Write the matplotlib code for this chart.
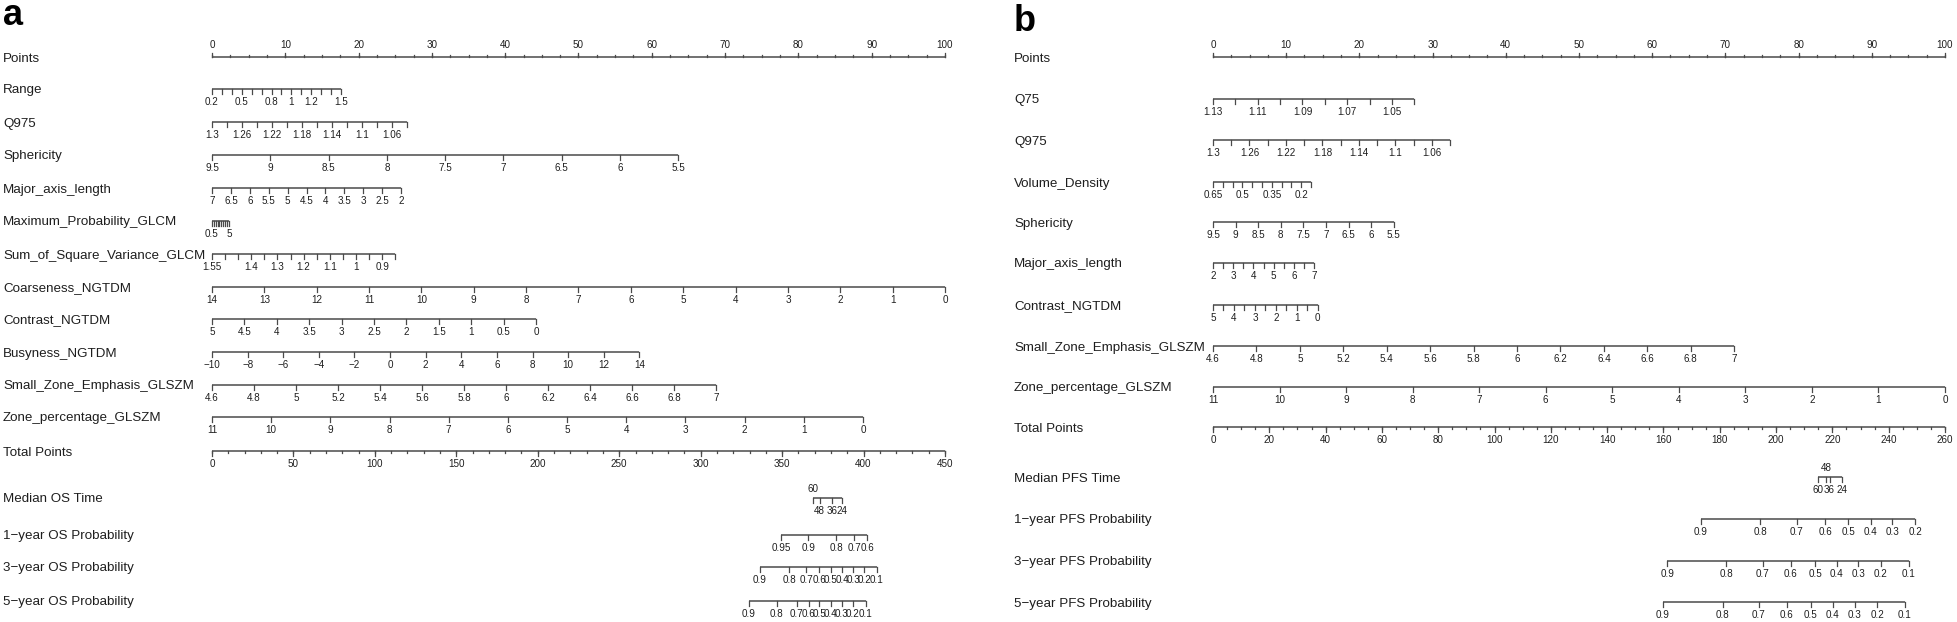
"""
Two nomograms (OS left, PFS right) drawn as stacked point scales.
Writes: out.png (1958 x 622 px)
"""
import numpy as np
import matplotlib
matplotlib.use("Agg")
import matplotlib.pyplot as plt
from matplotlib.transforms import blended_transform_factory

plt.rcParams["font.family"] = ["Liberation Sans", "DejaVu Sans"]

# ---------------------------------------------------------------------------
# Data: panel a (overall survival)
# each variable: tick grid (start, stop, step), labelled values, points at ends
# ---------------------------------------------------------------------------
A_NAMES = ["Range", "Q975", "Sphericity", "Major_axis_length",
           "Maximum_Probability_GLCM", "Sum_of_Square_Variance_GLCM",
           "Coarseness_NGTDM", "Contrast_NGTDM", "Busyness_NGTDM",
           "Small_Zone_Emphasis_GLSZM", "Zone_percentage_GLSZM"]
A_TICKS = [(0.2, 1.5, 0.1), (1.3, 1.04, -0.02), (9.5, 5.5, -0.5), (7, 2, -0.5),
           (0.5, 5, 0.5), (1.55, 0.85, -0.05), (14, 0, -1), (5, 0, -0.5),
           (-10, 14, 2), (4.6, 7, 0.2), (11, 0, -1)]
A_LABELS = [[0.2, 0.5, 0.8, 1, 1.2, 1.5],
            [1.3, 1.26, 1.22, 1.18, 1.14, 1.1, 1.06],
            [9.5, 9, 8.5, 8, 7.5, 7, 6.5, 6, 5.5],
            [7, 6.5, 6, 5.5, 5, 4.5, 4, 3.5, 3, 2.5, 2],
            [0.5, 5],
            [1.55, 1.4, 1.3, 1.2, 1.1, 1, 0.9],
            [14, 13, 12, 11, 10, 9, 8, 7, 6, 5, 4, 3, 2, 1, 0],
            [5, 4.5, 4, 3.5, 3, 2.5, 2, 1.5, 1, 0.5, 0],
            [-10, -8, -6, -4, -2, 0, 2, 4, 6, 8, 10, 12, 14],
            [4.6, 4.8, 5, 5.2, 5.4, 5.6, 5.8, 6, 6.2, 6.4, 6.6, 6.8, 7],
            [11, 10, 9, 8, 7, 6, 5, 4, 3, 2, 1, 0]]
A_POINTS = [(0, 17.6), (0, 26.6), (0, 63.6), (0, 25.8), (0, 2.3), (0, 25.0),
            (0, 100), (0, 44.2), (0, 58.3), (0, 68.8), (0, 88.8)]
A_TOTAL_MAX = 450

A_OUT_NAMES = ["Median OS Time", "1\u2212year OS Probability",
               "3\u2212year OS Probability", "5\u2212year OS Probability"]
A_OUT_VALUES = [[60, 48, 36, 24],
                [0.95, 0.9, 0.8, 0.7, 0.6],
                [0.9, 0.8, 0.7, 0.6, 0.5, 0.4, 0.3, 0.2, 0.1],
                [0.9, 0.8, 0.7, 0.6, 0.5, 0.4, 0.3, 0.2, 0.1]]
A_OUT_TOTAL = [[369.2, 373.1, 380.8, 386.9],
               [349.3, 366.1, 383.1, 394.3, 402.3],
               [336.4, 354.4, 364.7, 372.8, 380.0, 386.9, 393.7, 400.4, 408.1],
               [329.5, 346.7, 358.9, 366.5, 372.8, 379.8, 386.6, 393.3, 401.3]]
A_MEDIAN_ABOVE = [True, False, False, False]

# ---------------------------------------------------------------------------
# Data: panel b (progression-free survival)
# ---------------------------------------------------------------------------
B_NAMES = ["Q75", "Q975", "Volume_Density", "Sphericity", "Major_axis_length",
           "Contrast_NGTDM", "Small_Zone_Emphasis_GLSZM", "Zone_percentage_GLSZM"]
B_TICKS = [(1.13, 1.04, -0.01), (1.3, 1.04, -0.02), (0.65, 0.15, -0.05),
           (9.5, 5.5, -0.5), (2, 7, 0.5), (5, 0, -0.5), (4.6, 7, 0.2), (11, 0, -1)]
B_LABELS = [[1.13, 1.11, 1.09, 1.07, 1.05],
            [1.3, 1.26, 1.22, 1.18, 1.14, 1.1, 1.06],
            [0.65, 0.5, 0.35, 0.2],
            [9.5, 9, 8.5, 8, 7.5, 7, 6.5, 6, 5.5],
            [2, 3, 4, 5, 6, 7],
            [5, 4, 3, 2, 1, 0],
            [4.6, 4.8, 5, 5.2, 5.4, 5.6, 5.8, 6, 6.2, 6.4, 6.6, 6.8, 7],
            [11, 10, 9, 8, 7, 6, 5, 4, 3, 2, 1, 0]]
B_POINTS = [(0, 27.5), (0, 32.4), (0, 13.4), (0, 24.7), (0, 13.8), (0, 14.3),
            (0, 71.2), (0, 100)]
B_TOTAL_MAX = 260

B_OUT_NAMES = ["Median PFS Time", "1\u2212year PFS Probability",
               "3\u2212year PFS Probability", "5\u2212year PFS Probability"]
B_OUT_VALUES = [[60, 48, 36, 24],
                [0.9, 0.8, 0.7, 0.6, 0.5, 0.4, 0.3, 0.2],
                [0.9, 0.8, 0.7, 0.6, 0.5, 0.4, 0.3, 0.2, 0.1],
                [0.9, 0.8, 0.7, 0.6, 0.5, 0.4, 0.3, 0.2, 0.1]]
B_OUT_TOTAL = [[215.0, 217.9, 219.0, 223.3],
               [173.3, 194.4, 207.3, 217.4, 225.6, 233.7, 241.2, 249.5],
               [161.4, 182.3, 195.2, 205.2, 213.9, 221.5, 229.2, 237.2, 247.1],
               [159.8, 181.0, 193.8, 203.8, 212.4, 220.1, 228.0, 235.9, 245.7]]
B_MEDIAN_ABOVE = [False, True, False, False]

# ---------------------------------------------------------------------------
# Layout (pixels)
# ---------------------------------------------------------------------------
W, H = 1958, 622
A_X0, A_X100, A_LABEL_X = 212, 945, 3
B_X0, B_X100, B_LABEL_X = 1213, 1945, 1014
A_ROWS_Y = [57, 89, 122, 155, 188, 221, 254, 287, 319, 352, 385, 417, 451,
            498, 535, 567, 601]
B_ROWS_Y = [57, 99, 140, 182, 222, 263, 305, 346, 387, 427, 477, 519, 561, 602]

LINE_C = "#4a4a4a"
TEXT_C = "#1e1e1e"
NAME_FS = 9.6
TICK_FS = 7.1
TICK_LEN = 4.5

fig = plt.figure(figsize=(W / 100, H / 100), dpi=100)


def fmt(v):
    return f"{round(v, 4):g}".replace("-", "\u2212")


def scale(ax, y, tick_x, lab_x, lab_txt, up=False, minor_x=None, above=None):
    ax.plot([min(tick_x), max(tick_x)], [y, y], color=LINE_C, lw=1.1,
            solid_capstyle="butt", clip_on=False)
    sgn = -1 if up else 1
    for x in tick_x:
        ax.plot([x, x], [y, y + sgn * TICK_LEN], color=LINE_C, lw=0.9, clip_on=False)
    if minor_x is not None:
        for x in minor_x:
            ax.plot([x, x], [y, y + sgn * TICK_LEN * 0.5], color=LINE_C, lw=0.9,
                    clip_on=False)
    for i, (x, t) in enumerate(zip(lab_x, lab_txt)):
        if up:
            ty = y - 11.5
        elif above is not None and above[i]:
            ty = y - 9
        else:
            ty = y + 13
        ax.text(x, ty, t, ha="center", va="center", fontsize=TICK_FS, color=TEXT_C)


def panel(letter, x0, x100, label_x, rows_y, names, ticks, labels, points,
          total_max, total_major, total_minor, out_names, out_values, out_total,
          median_above, letter_base):
    ax = fig.add_axes([x0 / W, 0, (x100 - x0) / W, 1])
    ax.set_xlim(0, 100)
    ax.set_ylim(H, 0)
    ax.axis("off")
    name_tr = blended_transform_factory(fig.transFigure, ax.transData)

    def name(y, s):
        ax.text(label_x / W, y + 4.5, s, transform=name_tr, ha="left",
                va="baseline", fontsize=NAME_FS, color=TEXT_C)

    ax.text(label_x / W, letter_base, letter, transform=name_tr, ha="left",
            va="baseline", fontsize=26, fontweight="bold", color="black")

    # Points axis
    y = rows_y[0]
    name(y, "Points")
    major = np.arange(0, 101, 10)
    minor = np.arange(0, 100.1, 2.5)
    scale(ax, y, major, major, [fmt(v) for v in major], up=True, minor_x=minor)

    # Covariates
    for k, nm in enumerate(names):
        y = rows_y[k + 1]
        name(y, nm)
        v0, v1, st = ticks[k]
        tv = np.round(np.arange(v0, v1 + st / 2, st), 4)
        p0, p1 = points[k]
        to_pts = lambda v: p0 + (np.asarray(v) - v0) / (v1 - v0) * (p1 - p0)
        scale(ax, y, to_pts(tv), to_pts(labels[k]), [fmt(v) for v in labels[k]])

    # Total points
    y = rows_y[len(names) + 1]
    name(y, "Total Points")
    f = 100 / total_max
    tmaj = np.arange(0, total_max + 1, total_major)
    tmin = np.arange(0, total_max + 1, total_minor)
    scale(ax, y, tmaj * f, tmaj * f, [fmt(v) for v in tmaj], minor_x=tmin * f)

    # Outcome scales
    for k, nm in enumerate(out_names):
        y = rows_y[len(names) + 2 + k]
        name(y, nm)
        px = np.asarray(out_total[k]) * f
        scale(ax, y, px, px, [fmt(v) for v in out_values[k]],
              above=median_above if k == 0 else None)
    return ax


panel("a", A_X0, A_X100, A_LABEL_X, A_ROWS_Y, A_NAMES, A_TICKS, A_LABELS,
      A_POINTS, A_TOTAL_MAX, 50, 10, A_OUT_NAMES, A_OUT_VALUES, A_OUT_TOTAL,
      A_MEDIAN_ABOVE, 25)
panel("b", B_X0, B_X100, B_LABEL_X, B_ROWS_Y, B_NAMES, B_TICKS, B_LABELS,
      B_POINTS, B_TOTAL_MAX, 20, 5, B_OUT_NAMES, B_OUT_VALUES, B_OUT_TOTAL,
      B_MEDIAN_ABOVE, 31)

fig.savefig("out.png", dpi=100, facecolor="white")
